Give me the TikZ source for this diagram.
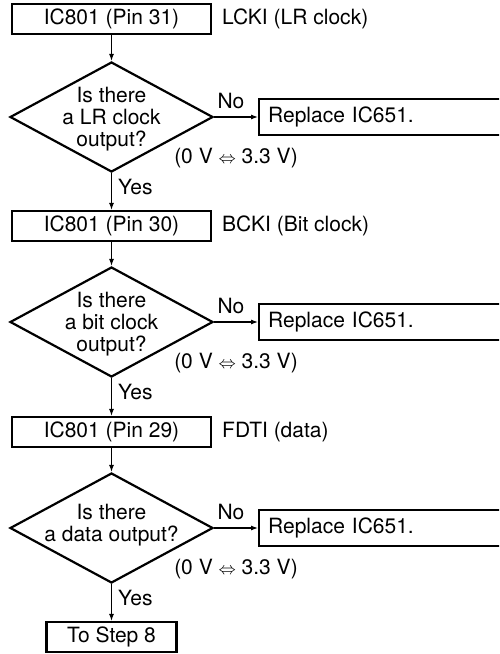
\documentclass[tikz,border=0pt]{standalone}
\usepackage{fontspec}
\setmainfont{TeX Gyre Heros}
\usetikzlibrary{shapes.geometric,arrows.meta}
\newcommand{\lrarrow}{{\fontsize{17}{17}\selectfont$\Leftrightarrow$}}
\begin{document}
\begin{tikzpicture}[x=1pt,y=-1pt, font=\fontsize{21}{22}\selectfont,
  box/.style={draw, line width=2.2pt, minimum width=199pt, minimum height=30pt, inner sep=0pt},
  endbox/.style={draw, line width=2.2pt, minimum width=130pt, minimum height=30pt, inner sep=0pt},
  dia/.style={draw, diamond, line width=2.2pt, minimum width=203pt, minimum height=110pt, inner sep=0pt},
  repl/.style={draw, line width=2.2pt, anchor=west, minimum height=36pt, text width=250pt, inner xsep=9pt, inner ysep=0pt, align=left},
  lab/.style={inner sep=0pt},
  txt/.style={inner sep=0pt, align=center},
  arr/.style={line width=1.1pt, -{Latex[length=7pt,width=5pt]}}
  ]
\clip (0,0) rectangle (499,654);
% step 1
\node[box] (b1) at (111.5,19) {IC801 (Pin 31)};
\node[lab, anchor=west] (l1) at (222,19) {LCKI (LR clock)};
\node[dia] (d1) at (111.5,117) {};
\node[txt] (t1) at (111.5,119) {Is there\\a LR clock\\output?};
\node[repl] (r1) at (258,117) {Replace IC651.};
\node[lab] (n1) at (231,101) {No};
\node[lab] (v1) at (236,158) {(0 V \lrarrow\ 3.3 V)};
\node[lab, anchor=west] (y1) at (118,187) {Yes};
% step 2
\node[box] (b2) at (111.5,226) {IC801 (Pin 30)};
\node[lab, anchor=west] (l2) at (222,226) {BCKI (Bit clock)};
\node[dia] (d2) at (111.5,322) {};
\node[txt] (t2) at (111.5,324) {Is there\\a bit clock\\output?};
\node[repl] (r2) at (258,322) {Replace IC651.};
\node[lab] (n2) at (231,306) {No};
\node[lab] (v2) at (236,363) {(0 V \lrarrow\ 3.3 V)};
\node[lab, anchor=west] (y2) at (118,392) {Yes};
% step 3
\node[box] (b3) at (111.5,432) {IC801 (Pin 29)};
\node[lab, anchor=west] (l3) at (222,432) {FDTI (data)};
\node[dia] (d3) at (111.5,528) {};
\node[txt] (t3) at (111.5,525) {Is there\\a data output?};
\node[repl] (r3) at (258,528) {Replace IC651.};
\node[lab] (n3) at (231,512) {No};
\node[lab] (v3) at (236,569) {(0 V \lrarrow\ 3.3 V)};
\node[lab, anchor=west] (y3) at (118,598) {Yes};
\node[endbox] (b4) at (111.5,637) {To Step 8};
% connectors
\draw[arr] (b1) -- (d1);
\draw[arr] (d1) -- (r1);
\draw[arr] (d1) -- (b2);
\draw[arr] (b2) -- (d2);
\draw[arr] (d2) -- (r2);
\draw[arr] (d2) -- (b3);
\draw[arr] (b3) -- (d3);
\draw[arr] (d3) -- (r3);
\draw[arr] (d3) -- (b4);
\end{tikzpicture}
\end{document}
